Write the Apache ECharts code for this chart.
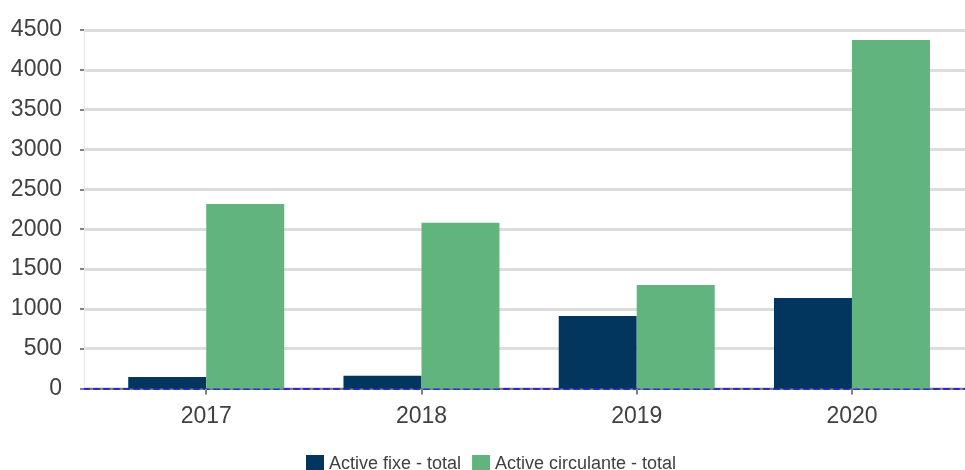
<!DOCTYPE html>
<html>
<head>
<meta charset="utf-8">
<script src="https://cdn.jsdelivr.net/npm/echarts@6/dist/echarts.min.js"></script>
<style>
  html, body { margin: 0; padding: 0; background: #fff; }
  #chart { width: 965px; height: 470px; }
</style>
</head>
<body>
<div id="chart"></div>
<script>
// date
var years = ['2017', '2018', '2019', '2020'];
var activeFixe = [145, 160, 910, 1135];
var activeCirculante = [2315, 2080, 1300, 4375];
var seriesNames = ['Active fixe - total', 'Active circulante - total'];
var yMax = 4500;
var yStep = 500;

var chart = echarts.init(document.getElementById('chart'));

var font = 'Liberation Sans, Arial, sans-serif';
var textColor = '#404040';

var option = {
  animation: false,
  textStyle: { fontFamily: font },
  legend: {
    data: seriesNames,
    left: 301,
    top: 450,
    itemWidth: 18,
    itemHeight: 18,
    itemGap: 11,
    icon: 'rect',
    textStyle: { fontSize: 18, color: textColor, fontFamily: font }
  },
  grid: [
    // zona barelor
    { left: 98.6, right: 5.4, top: 30, bottom: 81.5 },
    // axa y si liniile de grila, putin mai la stanga
    { left: 84, right: 0, top: 30, bottom: 81.5 }
  ],
  xAxis: [
    {
      type: 'category',
      gridIndex: 0,
      data: years,
      axisLine: { show: false },
      axisTick: { show: true, alignWithLabel: true, length: 6, lineStyle: { color: '#808080', width: 2 } },
      axisLabel: { fontSize: 23, color: textColor, margin: 17, fontFamily: font }
    },
    {
      type: 'value',
      gridIndex: 1,
      position: 'bottom',
      offset: 0,
      min: 0, max: 1,
      axisLine: { show: true, onZero: false, lineStyle: { color: '#808080', width: 2 } },
      axisTick: { show: false },
      axisLabel: { show: false },
      splitLine: { show: false }
    },
    {
      type: 'value',
      gridIndex: 1,
      position: 'bottom',
      offset: 0,
      min: 0, max: 1,
      axisLine: { show: true, onZero: false, lineStyle: { color: '#2a2ad0', width: 2, type: [5, 5] } },
      axisTick: { show: false },
      axisLabel: { show: false },
      splitLine: { show: false }
    }
  ],
  yAxis: [
    {
      type: 'value',
      gridIndex: 0,
      min: 0, max: yMax, interval: yStep,
      axisLine: { show: false },
      axisTick: { show: false },
      axisLabel: { show: false },
      splitLine: { show: false }
    },
    {
      type: 'value',
      gridIndex: 1,
      min: 0, max: yMax, interval: yStep,
      axisLine: { show: true, lineStyle: { color: '#e8e8e8', width: 1 } },
      axisTick: { show: true, length: 4, lineStyle: { color: '#7f7f7f', width: 2 } },
      axisLabel: {
        fontSize: 23, color: textColor, margin: 22, fontFamily: font,
        formatter: function (v) { return String(v); }
      },
      splitLine: { show: true, lineStyle: { color: '#dddddd', width: 3 } }
    }
  ],
  series: [
    {
      name: seriesNames[0],
      type: 'bar',
      xAxisIndex: 0,
      yAxisIndex: 0,
      data: activeFixe,
      barWidth: 78,
      barGap: '0%',
      itemStyle: { color: '#03365e' },
      z: 3
    },
    {
      name: seriesNames[1],
      type: 'bar',
      xAxisIndex: 0,
      yAxisIndex: 0,
      data: activeCirculante,
      barWidth: 78,
      barGap: '0%',
      itemStyle: { color: '#62b47e' },
      z: 3
    }
  ]
};

chart.setOption(option);
window.onresize = function () {
  chart.resize();
};
</script>
</body>
</html>
